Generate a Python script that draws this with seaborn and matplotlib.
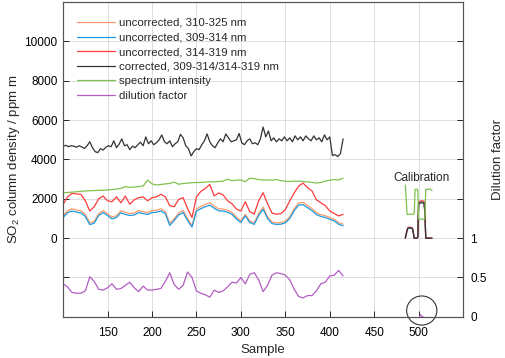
import matplotlib
matplotlib.use("Agg")
import matplotlib.pyplot as plt
from matplotlib.patches import Ellipse
import numpy as np
import seaborn as sns

# main measurement, samples every 5
samples = np.arange(100, 416, 5)
unc_310_325 = [1150, 1400, 1490, 1440, 1390, 1200, 780, 850, 1250, 1400,
               1250, 1070, 1140, 1390, 1310, 1250, 1280, 1400, 1350, 1300,
               1400, 1420, 1490, 1350, 740, 990, 1280, 1400, 990, 640,
               1480, 1610, 1720, 1800, 1630, 1490, 1480, 1420, 1310, 1060,
               880, 1220, 870, 780, 1250, 1580, 1090, 820, 780, 790,
               860, 1090, 1500, 1790, 1820, 1660, 1500, 1300, 1190, 1140,
               1050, 960, 790, 710]
unc_309_314 = [1050, 1300, 1380, 1330, 1280, 1100, 690, 760, 1150, 1300,
               1150, 980, 1050, 1290, 1210, 1150, 1180, 1300, 1250, 1200,
               1300, 1320, 1380, 1250, 650, 900, 1180, 1300, 900, 560,
               1380, 1500, 1600, 1680, 1520, 1390, 1380, 1320, 1210, 970,
               800, 1130, 790, 700, 1150, 1470, 1000, 740, 700, 710,
               780, 1000, 1400, 1680, 1700, 1550, 1400, 1200, 1100, 1050,
               960, 880, 710, 630]
unc_314_319 = [1720, 2100, 2280, 2250, 2230, 1900, 1380, 1600, 2000, 2140,
               1900, 1850, 2100, 1800, 2140, 1720, 1950, 2060, 2100, 1900,
               2060, 2100, 2230, 2100, 1650, 1600, 1970, 2060, 1500, 1050,
               2100, 2380, 2530, 2730, 2150, 2300, 2200, 1900, 1750, 1480,
               1380, 1850, 1350, 1230, 1900, 2310, 1750, 1280, 1210, 1250,
               1450, 1900, 2300, 2650, 2800, 2570, 2400, 1950, 1800, 1650,
               1380, 1250, 1130, 1210]
intensity = [2310, 2320, 2340, 2360, 2380, 2400, 2410, 2420, 2430, 2440,
             2450, 2470, 2500, 2530, 2620, 2580, 2600, 2620, 2650, 2950,
             2760, 2700, 2730, 2760, 2780, 2850, 2740, 2780, 2800, 2820,
             2830, 2830, 2850, 2860, 2860, 2880, 2900, 3000, 2920, 2950,
             2960, 2870, 3050, 3020, 2980, 2950, 2960, 2950, 2980, 2920,
             2900, 2880, 2900, 2900, 2880, 2860, 2840, 2800, 2830, 2900,
             2950, 2980, 2960, 3050]
dilution = [0.42, 0.38, 0.31, 0.30, 0.30, 0.33, 0.51, 0.45, 0.35, 0.34,
            0.37, 0.42, 0.35, 0.36, 0.40, 0.44, 0.37, 0.32, 0.39, 0.34,
            0.34, 0.35, 0.36, 0.45, 0.56, 0.41, 0.35, 0.40, 0.57, 0.50,
            0.33, 0.30, 0.28, 0.25, 0.34, 0.31, 0.33, 0.38, 0.44, 0.43,
            0.50, 0.42, 0.54, 0.56, 0.47, 0.32, 0.40, 0.53, 0.56, 0.55,
            0.53, 0.47, 0.35, 0.26, 0.24, 0.27, 0.27, 0.33, 0.42, 0.44,
            0.52, 0.53, 0.59, 0.52]

# corrected series, samples every 3
samples_corr = np.arange(100, 416, 3)
corrected = [4670, 4720, 4650, 4700, 4680, 4620, 4700, 4640, 4560, 4700,
             4900, 4600, 4400, 4350, 4550, 4480, 4620, 4700, 4650, 4950,
             4600, 4780, 5050, 4700, 4750, 4500, 4680, 4600, 4750, 4880,
             4700, 5150, 4800, 4950, 4750, 4850, 5000, 5250, 4900, 4800,
             4950, 4650, 4800, 4900, 5280, 5100, 4700, 4550, 4180, 4400,
             4550, 4500, 4750, 4950, 5300, 4900, 4700, 4600, 4850, 5050,
             4900, 5300, 5100, 4900, 4950, 5000, 5320, 4850, 4750, 4950,
             5050, 4800, 4850, 4750, 5050, 5650, 5150, 5450, 4950, 5100,
             4900, 5050, 4950, 5150, 4950, 5100, 4900, 5200, 5000, 5150,
             4950, 5200, 5050, 4950, 5200, 5000, 5100, 4900, 5250, 5000,
             5150, 4200, 4250, 4150, 4300, 5050]

# calibration run
cal_x = [485, 487, 488, 490, 493, 494, 495, 496, 498, 499, 500, 503, 506, 507, 508, 510, 513, 515]
cal_310_325 = [0, 400, 520, 530, 500, 280, 0, 0, 0, 40, 1820, 1870, 1840, 1380, 0, 0, 0, 0]
cal_309_314 = [0, 380, 500, 510, 480, 260, 0, 0, 0, 40, 1800, 1850, 1820, 1350, 0, 0, 0, 0]
cal_314_319 = [0, 420, 540, 560, 520, 300, 0, 0, 0, 50, 1850, 1900, 1880, 1400, 0, 0, 0, 0]
cal_corrected = [0, 400, 520, 530, 500, 280, 0, 0, 0, 40, 1750, 1800, 1780, 1300, 0, 0, 0, 0]
cal_intensity = [2700, 1210, 1210, 1220, 1210, 1220, 1230, 2480, 2480, 2470, 960, 970, 960, 980, 2480, 2480, 2500, 2420]
cal_dil_x = [501, 502, 503, 505]
cal_dilution = [0.0, 0.03, 0.01, 0.0]

labels = ["uncorrected, 310-325 nm", "uncorrected, 309-314 nm", "uncorrected, 314-319 nm",
          "corrected, 309-314/314-319 nm", "spectrum intensity", "dilution factor"]
colors = ["#ff9a6a", "#1a9be0", "#ff3a3a", "#333333", "#80c24e", "#b45cc4"]

sns.set_theme(style="whitegrid")
plt.rcParams['font.family'] = ['Liberation Sans', 'DejaVu Sans']
plt.rcParams['mathtext.default'] = 'regular'

fig, ax = plt.subplots(figsize=(5.05, 3.58), dpi=100)
fig.subplots_adjust(left=0.125, right=0.917, bottom=0.115, top=0.994)
ax2 = ax.twinx()

lw = 0.9
left_series = [(samples, unc_310_325, cal_310_325), (samples, unc_309_314, cal_309_314),
               (samples, unc_314_319, cal_314_319), (samples_corr, corrected, cal_corrected),
               (samples, intensity, cal_intensity)]
handles = []
for (sx, sy, cy), lab, col in zip(left_series, labels[:5], colors[:5]):
    sns.lineplot(x=sx, y=sy, ax=ax, color=col, linewidth=lw, label=lab, legend=False)
    sns.lineplot(x=cal_x, y=cy, ax=ax, color=col, linewidth=lw, legend=False)
    handles.append(ax.lines[-2])

sns.lineplot(x=samples, y=dilution, ax=ax2, color=colors[5], linewidth=lw, legend=False)
sns.lineplot(x=cal_dil_x, y=cal_dilution, ax=ax2, color=colors[5], linewidth=lw, legend=False)
handles.append(ax2.lines[0])

ax.set_xlim(100, 550)
ax.set_ylim(-4000, 12000)
ax.set_xticks(np.arange(150, 501, 50))
ax.set_yticks(np.arange(-2000, 10001, 2000))
ax.set_yticklabels([""] + [str(v) for v in range(0, 10001, 2000)])
ax2.set_ylim(0, 4)
ax2.set_yticks(np.arange(0, 4, 0.5))
ax2.set_yticklabels(["0", "0.5", "1"] + [""] * 5)
ax2.grid(False)

ax.grid(True, color="#dddddd", linewidth=0.7)
for a in (ax, ax2):
    a.tick_params(direction="in", length=4, width=0.7, labelsize=8.5, colors="#262626",
                  labelcolor="black", pad=4)
    for s in a.spines.values():
        s.set_color("#555555")
        s.set_linewidth(0.8)
ax.tick_params(axis="x", bottom=True, pad=7)
ax.tick_params(axis="y", left=True)
ax2.tick_params(axis="y", right=True, pad=5)

ax.set_xlabel("Sample", fontsize=9.5, labelpad=4)
ax.set_ylabel("SO$_2$ column density / ppm m", fontsize=9.5, labelpad=2)
ax2.set_ylabel("Dilution factor", fontsize=9.5, labelpad=4)

ax.text(503, 3050, "Calibration", fontsize=8.5, ha="center", va="center")
ax2.add_patch(Ellipse((503.5, 0.08), 34, 0.37, fill=False, edgecolor="#333333",
                      linewidth=0.8, clip_on=False))

ax.legend(handles, labels, loc="upper left", bbox_to_anchor=(0.015, 0.975), frameon=False,
          fontsize=8.2, handlelength=3.3, labelspacing=0.4, handletextpad=0.4,
          borderaxespad=0.3)

fig.savefig("out.png", dpi=100)
